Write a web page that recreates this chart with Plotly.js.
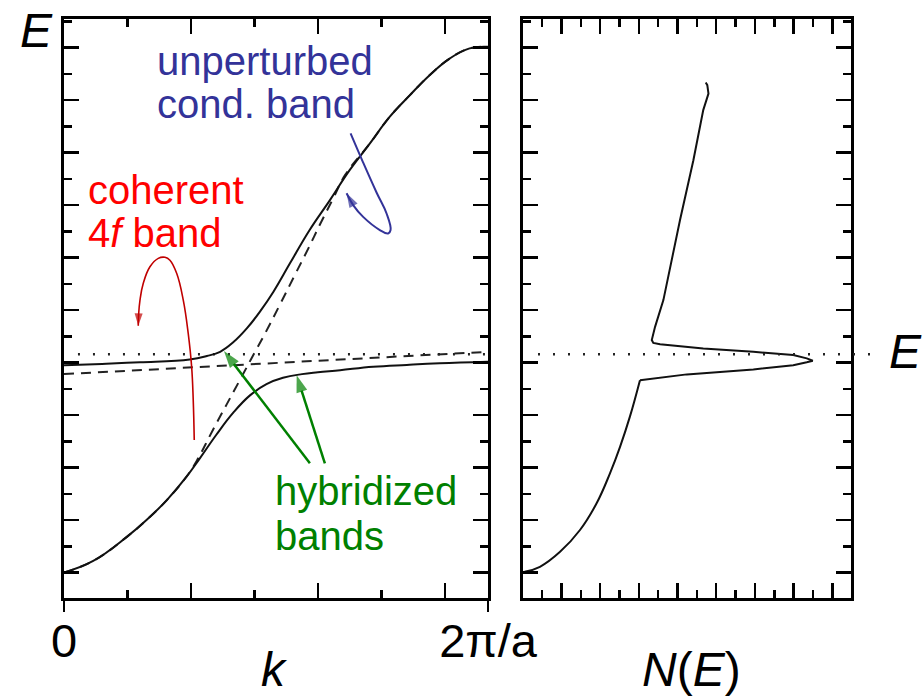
<!DOCTYPE html>
<html>
<head>
<meta charset="utf-8">
<script src="https://cdn.plot.ly/plotly-3.0.1.min.js"></script>
<style>html,body{margin:0;padding:0;background:#fff;}#chart{width:923px;height:696px;}</style>
</head>
<body>
<div id="chart"></div>
<script>
// ---------- data (k in tick units, 2π/a = 6.68; E in tick units) ----------
const kMax = 6.68;
const kTickVals = [0, 6.68];
const kTickLabels = ["0", "2\u03c0/a"];

// lower hybridized band
const lowK = [0, 0.46, 0.99, 1.30, 1.62, 1.93, 2.14, 2.40, 2.67, 2.93, 3.19, 3.45, 3.75, 4.0, 4.35, 4.87, 5.40, 5.92, 6.68];
const lowE = [0, 0.44, 1.36, 2.0, 2.76, 3.65, 4.35, 5.25, 6.10, 6.75, 7.18, 7.42, 7.56, 7.63, 7.71, 7.84, 7.91, 7.97, 8.03];

// upper hybridized band
const upK = [0, 0.6, 1.2, 1.98, 2.25, 2.46, 2.67, 2.88, 3.09, 3.30, 3.56, 3.87, 4.19, 4.50, 4.82, 5.13, 5.45, 5.76, 6.08, 6.39, 6.68];
const upE = [7.90, 7.95, 8.01, 8.12, 8.25, 8.41, 8.78, 9.30, 9.95, 10.70, 11.78, 13.05, 14.19, 15.33, 16.35, 17.36, 18.19, 18.95, 19.59, 19.97, 20.03];

// unperturbed conduction band (dashed)
const condK = [0, 0.46, 0.99, 1.30, 1.62, 1.93, 2.09, 2.35, 2.77, 3.03, 3.17, 3.40, 3.64, 3.85, 4.03, 4.24, 4.43, 4.82, 5.13, 5.45, 5.76, 6.08, 6.39, 6.68];
const condE = [0, 0.44, 1.36, 2.0, 2.76, 3.65, 4.25, 5.45, 7.33, 8.5, 9.12, 10.2, 11.35, 12.35, 13.25, 14.25, 15.15, 16.35, 17.36, 18.19, 18.95, 19.59, 19.97, 20.03];

// unperturbed 4f level (dashed)
const f4K = [0, 6.68];
const f4E = [7.56, 8.41];

// Fermi level
const fermiE = 8.32;
const fermiK = [0.22, 6.68];

// density of states N(E)
const dosLowN = [0.1, 0.89, 1.93, 2.96, 3.82, 4.51, 5.03, 5.54, 6.06];
const dosLowE = [0.03, 0.22, 0.79, 1.62, 2.64, 3.78, 4.79, 5.94, 7.33];
const dosHighN = [6.06, 8.48, 11.92, 13.98, 14.68, 14.99, 14.68, 13.98, 11.92, 9.33, 7.10, 6.75, 6.67, 6.84, 7.27, 8.13, 8.82, 9.33, 9.60, 9.54, 9.46];
const dosHighE = [7.33, 7.55, 7.74, 7.90, 8.01, 8.07, 8.16, 8.29, 8.41, 8.54, 8.70, 8.75, 8.86, 9.36, 10.38, 13.43, 15.71, 17.62, 18.25, 18.57, 18.67];
const nMax = 16.95;
const eRange = [-0.97, 21.09];

// callout arrow paths (last point = arrow tip)
const blueK = [4.515, 4.713, 4.924, 5.082, 5.145, 5.107, 4.976, 4.713, 4.556, 4.452];
const blueE = [16.73, 15.62, 14.48, 13.68, 13.05, 12.92, 13.05, 13.55, 14.0, 14.45];
const redK = [2.052, 2.036, 2.011, 1.957, 1.879, 1.775, 1.669, 1.591, 1.485, 1.354, 1.249, 1.197, 1.175, 1.170];
const redE = [5.05, 6.57, 7.84, 9.11, 10.38, 11.40, 11.90, 12.01, 11.97, 11.65, 11.02, 10.38, 9.80, 9.40];
const green1K = [3.874, 2.52];
const green1E = [4.16, 8.44];
const green2K = [4.11, 3.665];
const green2E = [4.16, 7.52];

// ---------- drawing ----------
const W = 923, H = 696;
const px = x => x / W;
const py = y => 1 - y / H;
const FONT = "Liberation Sans, Arial, sans-serif";
const BLUE = "#333399", RED = "#ff0000", DARKRED = "#c00000", GREEN = "#008000";

function headSizes(n, s) { const a = new Array(n).fill(0); a[n - 1] = s; return a; }
function arrowTrace(xs, ys, color, width, headSize, spline) {
  return {x: xs, y: ys, mode: "lines+markers",
    line: {color: color, width: width, shape: spline ? "spline" : "linear", smoothing: 1.2},
    marker: {symbol: "arrow", angleref: "previous", size: headSizes(xs.length, headSize), color: color, line: {width: 0}},
    xaxis: "x", yaxis: "y"};
}

const smooth = {shape: "spline", smoothing: 1.2};
const traces = [
  {x: f4K, y: f4E, mode: "lines", line: {color: "#222", width: 2, dash: "10px,7px"}, xaxis: "x", yaxis: "y"},
  {x: condK, y: condE, mode: "lines", line: Object.assign({color: "#222", width: 2, dash: "10px,7px"}, smooth), xaxis: "x", yaxis: "y"},
  {x: fermiK, y: [fermiE, fermiE], mode: "lines", line: {color: "#222", width: 2.5, dash: "2px,13px"}, xaxis: "x", yaxis: "y"},
  {x: lowK, y: lowE, mode: "lines", line: Object.assign({color: "#111", width: 2}, smooth), xaxis: "x", yaxis: "y"},
  {x: upK, y: upE, mode: "lines", line: Object.assign({color: "#111", width: 2}, smooth), xaxis: "x", yaxis: "y"},
  arrowTrace(blueK, blueE, BLUE, 2, 15, true),
  arrowTrace(redK, redE, DARKRED, 1.6, 13, true),
  arrowTrace(green1K, green1E, GREEN, 2.5, 18, false),
  arrowTrace(green2K, green2E, GREEN, 2.5, 18, false),
  {x: dosLowN, y: dosLowE, mode: "lines", line: Object.assign({color: "#111", width: 2}, smooth), xaxis: "x2", yaxis: "y2"},
  {x: dosHighN, y: dosHighE, mode: "lines", line: {color: "#111", width: 2}, xaxis: "x2", yaxis: "y2"}
];
traces.forEach(t => { t.hoverinfo = "skip"; t.showlegend = false; });

const frameAxis = {
  showline: true, linewidth: 3, linecolor: "#000", mirror: "ticks",
  ticks: "inside", ticklen: 15, tickwidth: 2.5, tickcolor: "#000",
  minor: {ticks: "inside", ticklen: 8, tickwidth: 2.5, tickcolor: "#000", dtick: 1},
  showgrid: false, zeroline: false, showticklabels: false, fixedrange: true
};

const layout = {
  width: W, height: H,
  margin: {l: 0, r: 0, t: 0, b: 0},
  paper_bgcolor: "#fff", plot_bgcolor: "rgba(0,0,0,0)",
  showlegend: false,
  font: {family: FONT, color: "#000"},
  xaxis: Object.assign({}, frameAxis, {domain: [px(64), px(488)], range: [0, kMax], tick0: 0, dtick: 2, anchor: "y"}),
  yaxis: Object.assign({}, frameAxis, {domain: [py(598), py(19)], range: eRange, tick0: 0, dtick: 2, anchor: "x"}),
  xaxis2: Object.assign({}, frameAxis, {domain: [px(522.7), px(850.7)], range: [0, nMax], tick0: 0, dtick: 2, anchor: "y2"}),
  yaxis2: Object.assign({}, frameAxis, {domain: [py(598), py(19)], range: eRange, tick0: 0, dtick: 2, anchor: "x2"}),
  xaxis3: {overlaying: "x", anchor: "y", side: "bottom", range: [0, kMax],
    tickmode: "array", tickvals: kTickVals, ticktext: kTickLabels,
    ticks: "outside", ticklen: 13, tickwidth: 2.5, tickcolor: "#000", ticklabelstandoff: -11,
    showline: false, showgrid: false, zeroline: false, fixedrange: true, showticklabels: true,
    tickfont: {family: FONT, size: 47, color: "#000"}},
  shapes: [
    {type: "line", xref: "paper", yref: "y2", x0: px(538), x1: px(871), y0: fermiE, y1: fermiE,
     line: {color: "#222", width: 2.5, dash: "2px,13px"}}
  ],
  annotations: []
};
// invisible trace so the overlay k-axis is drawn
traces.push({x: kTickVals, y: [eRange[0] - 5, eRange[0] - 5], mode: "markers", marker: {size: 0, opacity: 0},
  xaxis: "x3", yaxis: "y", hoverinfo: "skip", showlegend: false});

const A = layout.annotations;
function txt(text, x, y, size, color, xanchor) {
  A.push({text: text, xref: "paper", yref: "paper", x: px(x), y: py(y), xanchor: xanchor || "left", yanchor: "middle",
    showarrow: false, font: {family: FONT, size: size, color: color || "#000"}});
}
txt("<i>E</i>", 18, 30, 48);
txt("unperturbed", 155, 61, 40, BLUE);
txt("cond. band", 155, 104, 40, BLUE);
txt("coherent", 86, 190, 40, RED);
txt("4<i>f</i> band", 86, 233, 40, RED);
txt("hybridized", 273, 491, 40, GREEN);
txt("bands", 273, 536, 40, GREEN);
txt("<i>k</i>", 274, 669, 48, "#000", "center");
txt("<i>N</i>(<i>E</i>)", 691, 669, 48, "#000", "center");
txt("<i>E</i><sub>F</sub>", 887, 355, 48, "#000");

Plotly.newPlot("chart", traces, layout, {staticPlot: true, displayModeBar: false});
</script>
</body>
</html>
